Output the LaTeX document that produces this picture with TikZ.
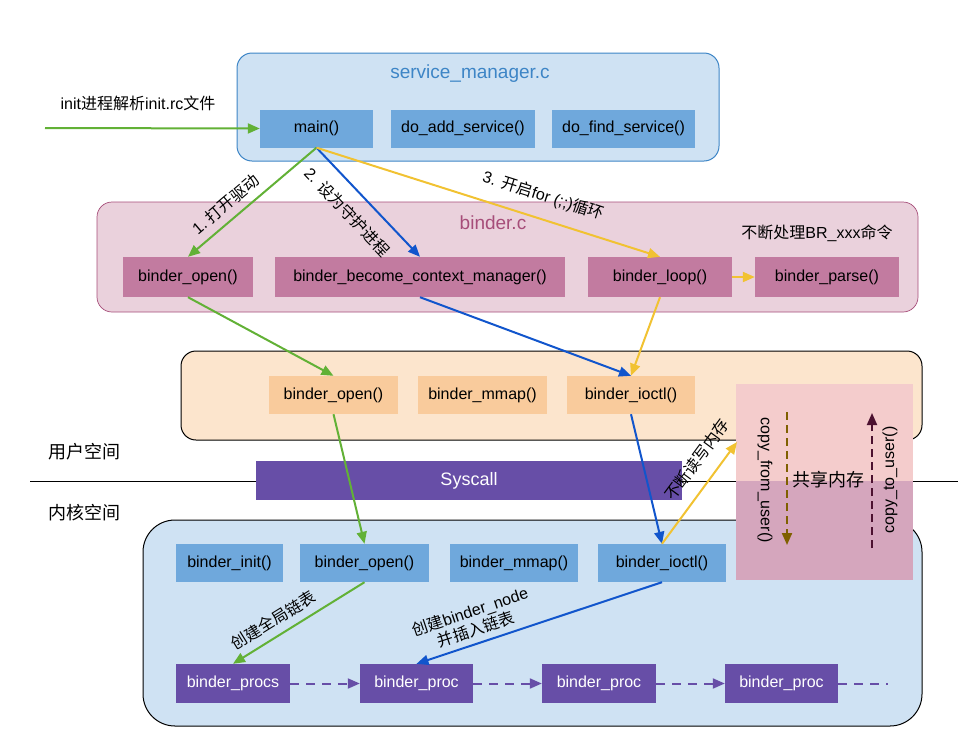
\documentclass[tikz,border=0pt]{standalone}
\usepackage{fontspec}
\setmainfont{Liberation Sans}
\newfontfamily\cjk{Noto Sans CJK SC}
\newcommand{\zh}[1]{{\cjk #1}}
\usetikzlibrary{arrows.meta}

\definecolor{smfill}{HTML}{CFE2F3}
\definecolor{smedge}{HTML}{3D85C6}
\definecolor{smblue}{HTML}{6FA8DC}
\definecolor{bcfill}{HTML}{EAD1DC}
\definecolor{bcedge}{HTML}{A64D79}
\definecolor{bcbox}{HTML}{C27BA0}
\definecolor{ufill}{HTML}{FCE5CD}
\definecolor{ubox}{HTML}{F9CB9C}
\definecolor{purp}{HTML}{674EA7}
\definecolor{arrgreen}{HTML}{62B136}
\definecolor{arrblue}{HTML}{1155CC}
\definecolor{arryellow}{HTML}{F1C232}
\definecolor{shmup}{HTML}{F4CCCC}
\definecolor{shmdown}{HTML}{D5A6BD}
\definecolor{cfubrown}{HTML}{7F6000}
\definecolor{ctumaroon}{HTML}{4C1130}

\tikzset{
  area/.style={rectangle, rounded corners=15pt, line width=1pt, inner sep=0pt},
  funcbox/.style={rectangle, minimum height=38pt, inner sep=0pt, font=\fontsize{16}{19}\selectfont},
  lbl/.style={font=\fontsize{16}{19}\selectfont, sloped},
  tip/.style={-{Triangle[length=12pt,width=10pt]}},
  garrow/.style={draw=arrgreen, line width=2pt, tip},
  barrow/.style={draw=arrblue, line width=2pt, tip},
  yarrow/.style={draw=arryellow, line width=2pt, tip},
  listline/.style={draw=purp, line width=2pt, dash pattern=on 9pt off 7pt},
}

\begin{document}
\begin{tikzpicture}[x=1pt,y=-1pt]
  \useasboundingbox (0,0) rectangle (971,755);

  % containers
  \node[area, fill=smfill, draw=smedge, minimum width=482pt, minimum height=108pt] (sm) at (478,107) {};
  \node[area, fill=bcfill, draw=bcedge, line width=0.7pt, minimum width=821pt, minimum height=110pt] (bc) at (507.5,257) {};
  \node[area, fill=ufill, draw=black, minimum width=741pt, minimum height=89pt] (user) at (551.5,395.5) {};
  \node[area, fill=smfill, draw=black, rounded corners=32pt, minimum width=779pt, minimum height=206pt] (kern) at (532.5,623) {};

  % user / kernel split
  \coordinate (splitL) at (30,481);
  \coordinate (splitR) at (958,481);
  \draw[line width=1pt] (splitL) -- (splitR);
  \node[font=\fontsize{18}{21}\selectfont] (ulbl) at (84,452) {\zh{用户空间}};
  \node[font=\fontsize{18}{21}\selectfont] (klbl) at (84,513) {\zh{内核空间}};
  \node[funcbox, font=\fontsize{18}{21}\selectfont, fill=purp, text=white, minimum width=426pt, minimum height=39pt] (sys) at (469,480.5) {Syscall};

  % shared memory
  \node[rectangle, inner sep=0pt, fill=shmup, minimum width=177pt, minimum height=97pt] (shmtop) at (824.5,432.5) {};
  \node[rectangle, inner sep=0pt, fill=shmdown, minimum width=177pt, minimum height=99pt] (shmbot) at (824.5,530.5) {};
  \node[font=\fontsize{18}{21}\selectfont] (shmlbl) at (828,480) {\zh{共享内存}};
  \node[font=\fontsize{16}{19}\selectfont, rotate=-90] (cfu) at (765,480) {copy\_from\_user()};
  \node[font=\fontsize{16}{19}\selectfont, rotate=90] (ctu) at (890,480) {copy\_to\_user()};
  \coordinate (cfuA) at (787,412);
  \coordinate (cfuB) at (787,545);
  \coordinate (ctuA) at (872,548);
  \coordinate (ctuB) at (872,413);
  \draw[draw=cfubrown, line width=2pt, dash pattern=on 8pt off 5pt, tip] (cfuA) -- (cfuB);
  \draw[draw=ctumaroon, line width=2pt, dash pattern=on 8pt off 5pt, tip] (ctuA) -- (ctuB);

  % service_manager.c
  \node[font=\fontsize{19}{22}\selectfont, text=smedge] (smtitle) at (470,74) {service\_manager.c};
  \begin{scope}[every node/.style={funcbox, fill=smblue}]
    \node[minimum width=113pt] (main)    at (316.5,128.5) {main()};
    \node[minimum width=144pt] (addsvc)  at (463,128.5)   {do\_add\_service()};
    \node[minimum width=143pt] (findsvc) at (623.5,128.5) {do\_find\_service()};
  \end{scope}
  \coordinate (initL) at (45,128);
  \node[font=\fontsize{16}{19}\selectfont] (inittxt) at (138,103) {init\zh{进程解析}init.rc\zh{文件}};

  % binder.c
  \node[font=\fontsize{19}{22}\selectfont, text=bcedge] (bctitle) at (493,223) {binder.c};
  \node[font=\fontsize{16}{19}\selectfont] (brtxt) at (817,233) {\zh{不断处理}BR\_xxx\zh{命令}};
  \begin{scope}[every node/.style={funcbox, fill=bcbox, minimum height=40pt}]
    \node[minimum width=130pt] (bcopen) at (188,277) {binder\_open()};
    \node[minimum width=290pt] (become) at (420,277) {binder\_become\_context\_manager()};
    \node[minimum width=144pt] (loop)   at (660,277) {binder\_loop()};
    \node[minimum width=144pt] (parse)  at (827,277) {binder\_parse()};
  \end{scope}

  % user space
  \begin{scope}[every node/.style={funcbox, fill=ubox}]
    \node[minimum width=129pt] (uopen)  at (333.5,395) {binder\_open()};
    \node[minimum width=129pt] (ummap)  at (482.5,395) {binder\_mmap()};
    \node[minimum width=128pt] (uioctl) at (631,395)   {binder\_ioctl()};
  \end{scope}

  % kernel
  \begin{scope}[every node/.style={funcbox, fill=smblue}]
    \node[minimum width=107pt] (kinit)  at (229.5,563) {binder\_init()};
    \node[minimum width=129pt] (kopen)  at (364.5,563) {binder\_open()};
    \node[minimum width=128pt] (kmmap)  at (514,563)   {binder\_mmap()};
    \node[minimum width=128pt] (kioctl) at (662,563)   {binder\_ioctl()};
  \end{scope}
  \begin{scope}[every node/.style={funcbox, fill=purp, text=white, minimum height=39pt}]
    \node[minimum width=114pt] (procs) at (233,683.5)   {binder\_procs};
    \node[minimum width=113pt] (proc1) at (416.5,683.5) {binder\_proc};
    \node[minimum width=114pt] (proc2) at (599,683.5)   {binder\_proc};
    \node[minimum width=113pt] (proc3) at (781.5,683.5) {binder\_proc};
  \end{scope}
  \coordinate (listend) at (888,683.5);
  \coordinate (shmin) at (737,442);

  % arrows
  \path (initL) edge[garrow] (main.west);
  \path (main.south) edge[garrow] node[lbl, above=4pt, pos=.63] {1.\ \zh{打开驱动}} (bcopen.north);
  \path (main.south) edge[barrow] node[lbl, below=10pt, pos=.45] {2. \zh{设为守护进程}} (become.north);
  \path (main.south) edge[yarrow] node[lbl, above=10pt, pos=.64] {3. \zh{开启}for (;;)\zh{循环}} (loop.north);
  \path (loop.east)  edge[yarrow] (parse.west);

  \path (bcopen.south) edge[garrow] (uopen.north);
  \path (become.south) edge[barrow] (uioctl.north);
  \path (loop.south)   edge[yarrow] (uioctl.north);

  \path (uopen.south)  edge[garrow] (kopen.north);
  \path (uioctl.south) edge[barrow] (kioctl.north);
  \path (kioctl.north) edge[yarrow] node[lbl, above=10pt, pos=.70] {\zh{不断读写内存}} (shmin);

  \path (kopen.south)  edge[garrow] node[lbl, above=4pt, pos=.63] {\zh{创建全局链表}} (procs.north);
  \path (kioctl.south) edge[barrow] node[lbl, above=2pt, pos=.74, align=center] {\zh{创建}binder\_node\\\zh{并插入链表}} (proc1.north);

  \path (procs.east) edge[listline, tip] (proc1.west);
  \path (proc1.east) edge[listline, tip] (proc2.west);
  \path (proc2.east) edge[listline, tip] (proc3.west);
  \path (proc3.east) edge[listline] (listend);

\end{tikzpicture}
\end{document}
